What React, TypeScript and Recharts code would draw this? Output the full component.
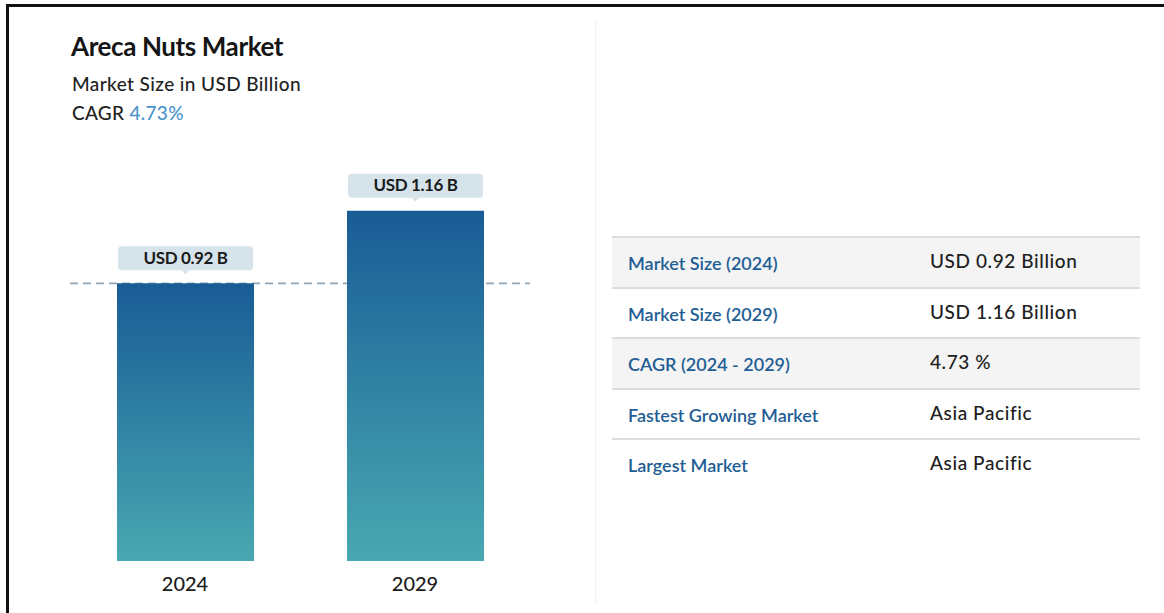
import React from "react";
import { BarChart, Bar, XAxis, YAxis, ReferenceLine, LabelList } from "recharts";

const categories = ["2024", "2029"];
const marketSize = [0.92, 1.16];
const valueLabels = ["USD 0.92 B", "USD 1.16 B"];
const tableLabels = ["Market Size (2024)", "Market Size (2029)", "CAGR (2024 - 2029)", "Fastest Growing Market", "Largest Market"];
const tableValues = ["USD 0.92 Billion", "USD 1.16 Billion", "4.73 %", "Asia Pacific", "Asia Pacific"];
const title = "Areca Nuts Market";
const subtitle = "Market Size in USD Billion";
const cagrText = "4.73%";

const data = categories.map((c, i) => ({ year: c, value: marketSize[i], label: valueLabels[i] }));

const FONT = "Lato, 'Open Sans', sans-serif";
const CHART_W = 530;
const CHART_H = 613;
const MARGIN = { top: 78, right: 0, bottom: 0, left: 70 };

const PillLabel = (props: any) => {
  const { x, y, width, index } = props;
  const cx = x + width / 2;
  const w = 135;
  const h = 24;
  const top = y - 37;
  return (
    <g>
      <rect x={cx - w / 2} y={top} width={w} height={h} rx={4} fill="#d6e3ea" />
      <path d={`M${cx - 4},${top + h} L${cx + 4},${top + h} L${cx},${top + h + 4} Z`} fill="#d6e3ea" />
      <text x={cx} y={top + h / 2 + 1} textAnchor="middle" dominantBaseline="middle" fontFamily={FONT} fontWeight={700} fontSize={17} fill="#1b1b1b" letterSpacing={-0.4}>
        {valueLabels[index]}
      </text>
    </g>
  );
};

export default function App() {
  return (
    <div style={{ position: "absolute", left: 0, top: 0, width: 1164, height: 613, background: "#fff", overflow: "hidden", fontFamily: FONT }}>
      {/* frame */}
      <div style={{ position: "absolute", left: 6, top: 4, width: 1158, height: 3, background: "#111" }} />
      <div style={{ position: "absolute", left: 6, top: 4, width: 3, height: 609, background: "#111" }} />
      {/* separator */}
      <div style={{ position: "absolute", left: 595, top: 20, width: 1, height: 585, background: "#f0f0f0" }} />

      <div style={{ position: "absolute", left: 71, top: 30, fontSize: 26, fontWeight: 700, color: "#151515", letterSpacing: -0.4 }}>{title}</div>
      <div style={{ position: "absolute", left: 72, top: 72, fontSize: 19, fontWeight: 500, color: "#222", letterSpacing: 0.4 }}>{subtitle}</div>
      <div style={{ position: "absolute", left: 72, top: 101, fontSize: 19, fontWeight: 500, color: "#222", letterSpacing: 0.3 }}>
        CAGR <span style={{ color: "#4b93c9" }}>{cagrText}</span>
      </div>

      {/* background layer: dashed reference line (behind bars) */}
      <div style={{ position: "absolute", left: 0, top: 0 }}>
        <BarChart width={CHART_W} height={CHART_H} data={data} margin={MARGIN}>
          <YAxis hide domain={[0, 1.6]} type="number" />
          <XAxis dataKey="year" axisLine={false} tickLine={false} tick={false} height={52} />
          <ReferenceLine y={marketSize[0]} stroke="#8ea6b8" strokeWidth={1.8} strokeDasharray="8 5" />
          <Bar dataKey="value" barSize={137} fill="none" isAnimationActive={false} />
        </BarChart>
      </div>

      {/* foreground layer: bars and labels */}
      <div style={{ position: "absolute", left: 0, top: 0 }}>
        <BarChart width={CHART_W} height={CHART_H} data={data} margin={MARGIN}>
          <defs>
            <linearGradient id="barGrad" x1="0" y1="0" x2="0" y2="1">
              <stop offset="0%" stopColor="#195c96" />
              <stop offset="100%" stopColor="#48a8b1" />
            </linearGradient>
          </defs>
          <YAxis hide domain={[0, 1.6]} type="number" />
          <XAxis dataKey="year" axisLine={false} tickLine={false} height={52} tick={{ fontSize: 20, fill: "#1c1c1c", fontFamily: FONT, fontWeight: 500 }} dy={8} />
          <Bar dataKey="value" barSize={137} fill="url(#barGrad)" isAnimationActive={false}>
            <LabelList dataKey="label" content={<PillLabel />} />
          </Bar>
        </BarChart>
      </div>

      <div style={{ position: "absolute", left: 612, top: 236, width: 528 }}>
        {tableLabels.map((l, i) => (
          <div key={l} style={{ height: 48.5, borderTop: "2px solid #dcdcdc", background: i % 2 === 0 && i < 3 ? "#f4f4f4" : "#fff", position: "relative" }}>
            <div style={{ position: "absolute", left: 16, top: 14, fontSize: 18, fontWeight: 600, color: "#1f5e95" }}>{l}</div>
            <div style={{ position: "absolute", left: 318, top: 11, fontSize: 19, fontWeight: 500, color: "#202020", letterSpacing: 0.6 }}>{tableValues[i]}</div>
          </div>
        ))}
      </div>
    </div>
  );
}
